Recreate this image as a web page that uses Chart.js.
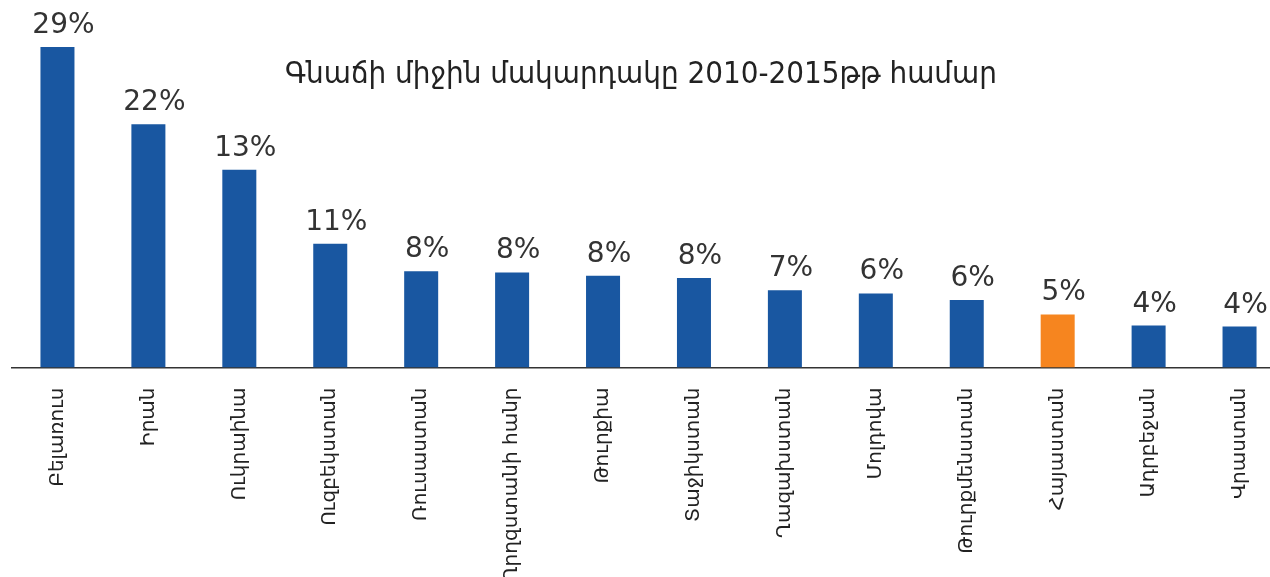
<!DOCTYPE html>
<html>
<head>
<meta charset="utf-8">
<script src="https://cdn.jsdelivr.net/npm/chart.js@4.4.1/dist/chart.umd.min.js"></script>
<style>
	html, body { margin: 0; padding: 0; background: #fff; overflow: hidden; }
	#wrap { width: 1285px; height: 577px; }
</style>
</head>
<body>
<div id="wrap"><canvas id="inflation-chart" width="1285" height="577"></canvas></div>
<script>
'use strict';

const countries = ['Բելառուս', 'Իրան', 'Ուկրաինա', 'Ուզբեկստան', 'Ռուսաստան', 'Ղրղզստանի հանր', 'Թուրքիա',
	'Տաջիկստան', 'Ղազախստան', 'Մոլդովա', 'Թուրքմենստան', 'Հայաստան', 'Ադրբեջան', 'Վրաստան'];
// bar heights
const inflation = [29.0, 22.0, 17.9, 11.2, 8.7, 8.6, 8.3, 8.1, 7.0, 6.7, 6.1, 4.8, 3.8, 3.7];
// labels as printed over the bars
const shownLabels = ['29%', '22%', '13%', '11%', '8%', '8%', '8%', '8%', '7%', '6%', '6%', '5%', '4%', '4%'];
const highlight = 'Հայաստան';

const titleText = 'Գնաճի միջին մակարդակը 2010-2015թթ համար';

const blue = '#1957a1';
const orange = '#f6851f';

const valueLabels = {
	id: 'valueLabels',
	afterDatasetsDraw(chart){
		const ctx = chart.ctx;
		const meta = chart.getDatasetMeta(0);
		ctx.save();
		ctx.font = '28px "DejaVu Sans"';
		ctx.fillStyle = '#333';
		ctx.textAlign = 'center';
		ctx.textBaseline = 'alphabetic';
		meta.data.forEach(function(bar, i){
			ctx.fillText(shownLabels[i], bar.x + 6, bar.y - 14); //labels sit a bit right of the bar centre
		});
		ctx.restore();
	}
};

const innerTitle = {
	id: 'innerTitle',
	afterDraw(chart){
		const ctx = chart.ctx;
		ctx.save();
		ctx.font = '31px "DejaVu Sans Condensed"';
		ctx.fillStyle = '#222';
		ctx.textAlign = 'center';
		ctx.textBaseline = 'alphabetic';
		ctx.fillText(titleText, 641, 83);
		ctx.restore();
	}
};

new Chart(document.getElementById('inflation-chart'), {
	type: 'bar',
	data: {
		labels: countries,
		datasets: [{
			data: inflation,
			backgroundColor: countries.map(c => c === highlight ? orange : blue),
			barPercentage: 0.374,
			categoryPercentage: 1
		}]
	},
	options: {
		responsive: false,
		animation: false,
		layout: { padding: { left: 12, right: 0, top: 0, bottom: 0 } },
		plugins: {
			legend: { display: false },
			tooltip: { enabled: false }
		},
		scales: {
			x: {
				grid: { display: false, drawTicks: false },
				border: { display: true, color: '#333', width: 1.5 },
				ticks: {
					autoSkip: false,
					maxRotation: 90,
					minRotation: 90,
					padding: 20,
					color: '#222',
					font: { family: '"DejaVu Sans"', size: 20 }
				},
				afterFit: function(scale){ scale.height = 577 - 367.5; }
			},
			y: {
				display: false,
				min: 0,
				max: 33.25
			}
		}
	},
	plugins: [valueLabels, innerTitle]
});
</script>
</body>
</html>
